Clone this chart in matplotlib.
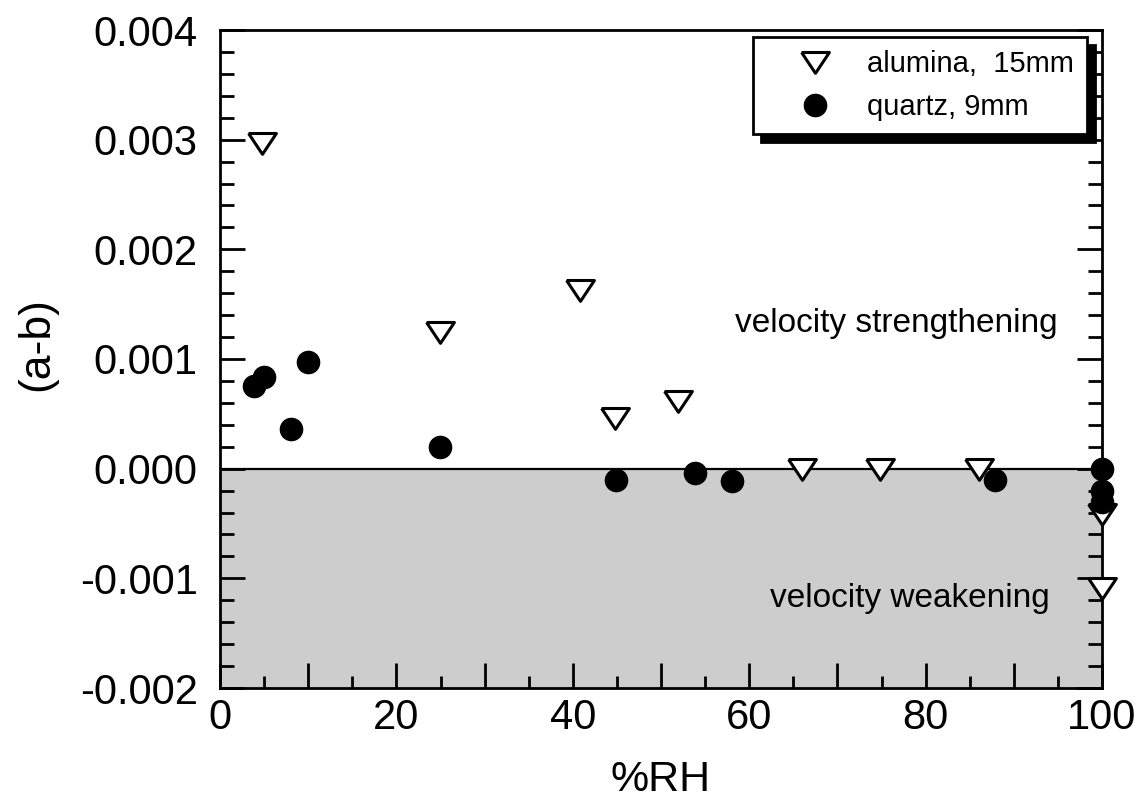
import matplotlib
matplotlib.use("Agg")
import matplotlib.pyplot as plt
from matplotlib.ticker import MultipleLocator

plt.rcParams['font.family'] = ['Liberation Sans', 'DejaVu Sans']

# Data
alumina_rh = [4.8, 24.9, 40.8, 44.8, 51.9, 66, 74.8, 86, 100, 100]
alumina_ab = [0.00297, 0.00125, 0.00163, 0.00046, 0.00062, 0.0, 0.0, 0.0, -0.00041, -0.00109]
quartz_rh = [3.9, 5.0, 8.1, 10.0, 24.9, 44.9, 53.9, 58.0, 87.9, 100, 100, 100]
quartz_ab = [0.00075, 0.00084, 0.00036, 0.00097, 0.00020, -0.00010, -0.00004,
             -0.00011, -0.00010, 0.0, -0.00020, -0.00030]
xticks = [0, 20, 40, 60, 80, 100]
yticks = [-0.002, -0.001, 0.0, 0.001, 0.002, 0.003, 0.004]
ytick_labels = ["-0.002", "-0.001", "0.000", "0.001", "0.002", "0.003", "0.004"]

fig = plt.figure(figsize=(11.43, 8.02), dpi=100)
ax = fig.add_axes([220/1143, 1-688/802, (1102-220)/1143, (688-30)/802])

ax.set_xlim(0, 100)
ax.set_ylim(-0.002, 0.004)

# shaded weakening region
ax.axhspan(-0.002, 0.0, color='#cdcdcd', zorder=0, lw=0)
ax.axhline(0.0, color='black', lw=1.6, zorder=1)

tri = [(-1, 0.72), (1, 0.72), (0, -0.78), (-1, 0.72)]
ax.plot(alumina_rh, alumina_ab, linestyle='none', marker=tri, markersize=20,
        markerfacecolor='white', markeredgecolor='black', markeredgewidth=2.2,
        label='alumina,  15mm', zorder=3, clip_on=False)
ax.plot(quartz_rh, quartz_ab, linestyle='none', marker='o', markersize=16,
        markerfacecolor='black', markeredgecolor='black',
        label='quartz, 9mm', zorder=4, clip_on=False)

ax.text(95.0, 0.001246, 'velocity strengthening', fontsize=24, ha='right', va='baseline')
ax.text(94.1, -0.00126, 'velocity weakening', fontsize=24, ha='right', va='baseline')

ax.set_xticks(list(range(0, 101, 10)))
ax.set_xticklabels([str(v) if v in xticks else '' for v in range(0, 101, 10)])
ax.xaxis.set_minor_locator(MultipleLocator(5))
ax.set_yticks(yticks)
ax.set_yticklabels(ytick_labels)
ax.yaxis.set_minor_locator(MultipleLocator(0.0002))

ax.tick_params(axis='both', which='major', direction='in', labelsize=30, width=2.0)
ax.tick_params(axis='x', which='major', length=18, pad=7, top=False)
ax.tick_params(axis='x', which='minor', direction='in', length=9, width=2.0, top=False)
ax.tick_params(axis='y', which='major', length=18, pad=16, right=True)
ax.tick_params(axis='y', which='minor', direction='in', length=10, width=2.0, right=True)

for s in ax.spines.values():
    s.set_linewidth(2.0)

ax.set_xlabel('%RH', fontsize=31, labelpad=16)
ax.set_ylabel('(a-b)', fontsize=32)
ax.yaxis.set_label_coords(-0.184, 0.523)

leg = ax.legend(loc='upper left', bbox_to_anchor=(753/1143, 1-37/802),
                bbox_transform=fig.transFigure, fontsize=21, frameon=True,
                fancybox=False, edgecolor='black', framealpha=1,
                shadow={'color': 'black', 'alpha': 1.0, 'ox': 6, 'oy': -6},
                handlelength=3.35, handletextpad=0.1, borderpad=0.45,
                labelspacing=0.5, borderaxespad=0, markerscale=1.0)
leg.get_frame().set_linewidth(2.0)

fig.savefig('out.png', dpi=100)
